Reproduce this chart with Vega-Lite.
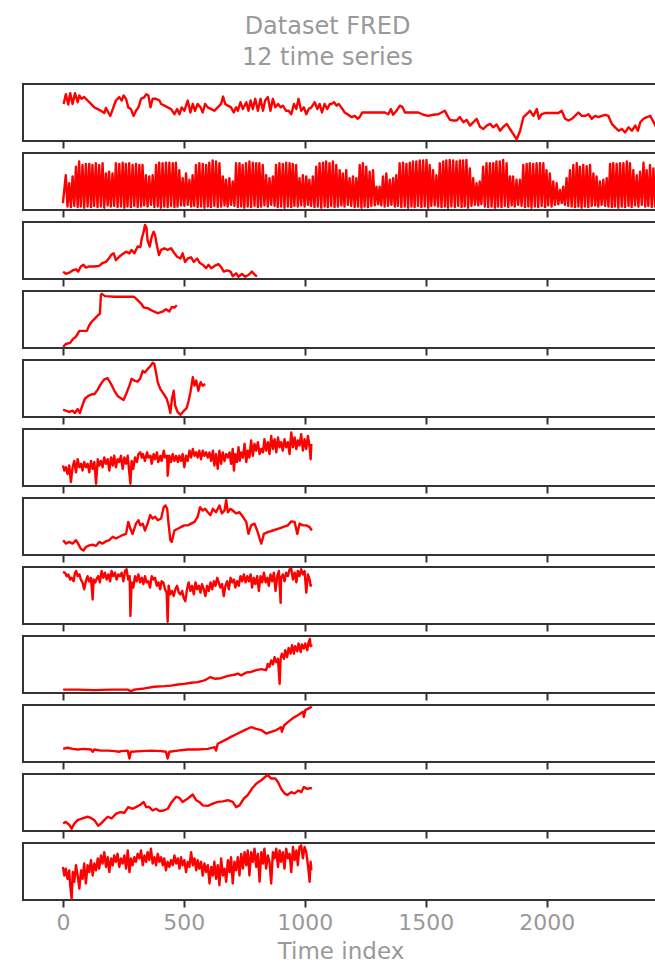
{
"$schema": "https://vega.github.io/schema/vega-lite/v6.json",
"background": "white",
"padding": {"left": 22, "top": 15, "right": 0, "bottom": 0},
"title": {"text": ["Dataset FRED", "12 time series"], "font": "DejaVu Sans", "fontSize": 24, "fontWeight": "normal", "color": "#999999", "lineHeight": 31, "anchor": "middle", "dx": -13, "offset": 13},
"bounds": "flush",
"spacing": 12,
"datasets": {
"s1": [{"t":3,"v":65},{"t":12,"v":82},{"t":22,"v":64},{"t":30,"v":84},{"t":40,"v":65},{"t":50,"v":84},{"t":61,"v":68},{"t":68,"v":80},{"t":77,"v":74},{"t":88,"v":77},{"t":102,"v":71},{"t":116,"v":65},{"t":130,"v":59},{"t":144,"v":56},{"t":157,"v":53},{"t":171,"v":49},{"t":178,"v":58},{"t":188,"v":50},{"t":196,"v":44},{"t":206,"v":56},{"t":219,"v":71},{"t":233,"v":77},{"t":243,"v":71},{"t":251,"v":80},{"t":261,"v":74},{"t":270,"v":59},{"t":281,"v":56},{"t":292,"v":44},{"t":302,"v":53},{"t":312,"v":59},{"t":323,"v":74},{"t":337,"v":77},{"t":344,"v":82},{"t":353,"v":80},{"t":362,"v":59},{"t":371,"v":74},{"t":385,"v":74},{"t":399,"v":71},{"t":406,"v":65},{"t":420,"v":62},{"t":433,"v":59},{"t":447,"v":56},{"t":461,"v":47},{"t":472,"v":56},{"t":482,"v":47},{"t":491,"v":59},{"t":502,"v":53},{"t":516,"v":71},{"t":527,"v":50},{"t":537,"v":65},{"t":546,"v":53},{"t":557,"v":65},{"t":569,"v":59},{"t":578,"v":50},{"t":588,"v":65},{"t":599,"v":59},{"t":613,"v":56},{"t":626,"v":53},{"t":640,"v":59},{"t":654,"v":65},{"t":662,"v":78},{"t":671,"v":65},{"t":682,"v":62},{"t":695,"v":59},{"t":706,"v":50},{"t":716,"v":59},{"t":723,"v":53},{"t":734,"v":68},{"t":744,"v":56},{"t":758,"v":68},{"t":767,"v":53},{"t":776,"v":71},{"t":785,"v":56},{"t":795,"v":74},{"t":806,"v":53},{"t":817,"v":74},{"t":827,"v":53},{"t":836,"v":71},{"t":847,"v":77},{"t":858,"v":53},{"t":868,"v":74},{"t":878,"v":59},{"t":889,"v":65},{"t":900,"v":59},{"t":909,"v":62},{"t":923,"v":53},{"t":933,"v":53},{"t":944,"v":47},{"t":955,"v":65},{"t":965,"v":56},{"t":974,"v":74},{"t":985,"v":53},{"t":996,"v":59},{"t":1006,"v":47},{"t":1016,"v":56},{"t":1027,"v":59},{"t":1041,"v":68},{"t":1052,"v":56},{"t":1061,"v":65},{"t":1071,"v":50},{"t":1082,"v":65},{"t":1093,"v":56},{"t":1103,"v":65},{"t":1110,"v":65},{"t":1121,"v":68},{"t":1131,"v":62},{"t":1140,"v":65},{"t":1151,"v":59},{"t":1165,"v":50},{"t":1179,"v":46},{"t":1193,"v":42},{"t":1207,"v":44},{"t":1218,"v":39},{"t":1227,"v":42},{"t":1237,"v":50},{"t":1248,"v":50},{"t":1276,"v":50},{"t":1303,"v":50},{"t":1331,"v":50},{"t":1345,"v":47},{"t":1356,"v":56},{"t":1365,"v":46},{"t":1379,"v":53},{"t":1393,"v":62},{"t":1403,"v":60},{"t":1414,"v":50},{"t":1441,"v":50},{"t":1469,"v":50},{"t":1490,"v":46},{"t":1510,"v":44},{"t":1531,"v":46},{"t":1552,"v":47},{"t":1565,"v":50},{"t":1579,"v":53},{"t":1590,"v":44},{"t":1600,"v":37},{"t":1614,"v":36},{"t":1628,"v":36},{"t":1641,"v":42},{"t":1655,"v":33},{"t":1669,"v":37},{"t":1683,"v":27},{"t":1697,"v":33},{"t":1710,"v":39},{"t":1724,"v":25},{"t":1738,"v":21},{"t":1752,"v":27},{"t":1766,"v":30},{"t":1779,"v":24},{"t":1793,"v":29},{"t":1807,"v":18},{"t":1821,"v":25},{"t":1835,"v":30},{"t":1848,"v":21},{"t":1862,"v":12},{"t":1876,"v":3},{"t":1890,"v":18},{"t":1904,"v":42},{"t":1917,"v":47},{"t":1931,"v":53},{"t":1945,"v":44},{"t":1959,"v":56},{"t":1968,"v":39},{"t":1979,"v":47},{"t":1993,"v":49},{"t":2021,"v":49},{"t":2048,"v":49},{"t":2062,"v":53},{"t":2076,"v":39},{"t":2090,"v":36},{"t":2104,"v":39},{"t":2117,"v":44},{"t":2131,"v":50},{"t":2145,"v":44},{"t":2159,"v":44},{"t":2173,"v":47},{"t":2186,"v":39},{"t":2200,"v":44},{"t":2214,"v":42},{"t":2228,"v":44},{"t":2242,"v":46},{"t":2255,"v":44},{"t":2269,"v":30},{"t":2283,"v":24},{"t":2297,"v":18},{"t":2311,"v":21},{"t":2324,"v":15},{"t":2338,"v":24},{"t":2352,"v":18},{"t":2366,"v":27},{"t":2377,"v":18},{"t":2387,"v":33},{"t":2400,"v":39},{"t":2414,"v":42},{"t":2428,"v":44},{"t":2438,"v":36},{"t":2449,"v":27},{"t":2469,"v":30}],
"s2": [{"t":0,"v":12},{"t":12,"v":61},{"t":19,"v":6},{"t":26,"v":47},{"t":33,"v":5},{"t":40,"v":59},{"t":47,"v":7},{"t":54,"v":76},{"t":61,"v":5},{"t":67,"v":85},{"t":74,"v":6},{"t":81,"v":79},{"t":88,"v":4},{"t":95,"v":81},{"t":102,"v":6},{"t":109,"v":81},{"t":116,"v":5},{"t":122,"v":79},{"t":129,"v":7},{"t":136,"v":82},{"t":143,"v":5},{"t":150,"v":79},{"t":157,"v":6},{"t":164,"v":82},{"t":171,"v":4},{"t":178,"v":64},{"t":185,"v":8},{"t":191,"v":67},{"t":198,"v":6},{"t":205,"v":64},{"t":212,"v":7},{"t":219,"v":82},{"t":226,"v":5},{"t":233,"v":81},{"t":240,"v":6},{"t":247,"v":83},{"t":254,"v":4},{"t":260,"v":81},{"t":267,"v":6},{"t":274,"v":82},{"t":281,"v":5},{"t":288,"v":79},{"t":295,"v":7},{"t":302,"v":81},{"t":309,"v":5},{"t":316,"v":79},{"t":323,"v":6},{"t":329,"v":79},{"t":336,"v":8},{"t":343,"v":61},{"t":350,"v":6},{"t":357,"v":59},{"t":364,"v":9},{"t":371,"v":61},{"t":378,"v":5},{"t":385,"v":79},{"t":392,"v":6},{"t":398,"v":83},{"t":405,"v":4},{"t":412,"v":82},{"t":419,"v":6},{"t":426,"v":83},{"t":433,"v":5},{"t":440,"v":83},{"t":447,"v":7},{"t":454,"v":82},{"t":461,"v":5},{"t":467,"v":83},{"t":474,"v":6},{"t":481,"v":70},{"t":488,"v":8},{"t":495,"v":56},{"t":502,"v":7},{"t":509,"v":64},{"t":516,"v":9},{"t":523,"v":53},{"t":530,"v":6},{"t":536,"v":61},{"t":543,"v":7},{"t":550,"v":79},{"t":557,"v":5},{"t":564,"v":82},{"t":571,"v":6},{"t":578,"v":81},{"t":585,"v":4},{"t":592,"v":79},{"t":599,"v":6},{"t":605,"v":83},{"t":612,"v":5},{"t":619,"v":87},{"t":626,"v":7},{"t":633,"v":85},{"t":640,"v":5},{"t":647,"v":82},{"t":654,"v":6},{"t":661,"v":59},{"t":668,"v":8},{"t":674,"v":53},{"t":681,"v":6},{"t":688,"v":56},{"t":695,"v":9},{"t":702,"v":50},{"t":709,"v":7},{"t":716,"v":82},{"t":723,"v":5},{"t":730,"v":82},{"t":737,"v":6},{"t":743,"v":79},{"t":750,"v":4},{"t":757,"v":82},{"t":764,"v":6},{"t":771,"v":85},{"t":778,"v":5},{"t":785,"v":83},{"t":792,"v":7},{"t":799,"v":82},{"t":806,"v":5},{"t":812,"v":82},{"t":819,"v":6},{"t":826,"v":79},{"t":833,"v":8},{"t":840,"v":61},{"t":847,"v":6},{"t":854,"v":56},{"t":861,"v":9},{"t":868,"v":59},{"t":875,"v":7},{"t":881,"v":79},{"t":888,"v":5},{"t":895,"v":82},{"t":902,"v":6},{"t":909,"v":81},{"t":916,"v":4},{"t":923,"v":83},{"t":930,"v":6},{"t":937,"v":82},{"t":944,"v":5},{"t":950,"v":81},{"t":957,"v":7},{"t":964,"v":79},{"t":971,"v":6},{"t":978,"v":56},{"t":985,"v":8},{"t":992,"v":61},{"t":999,"v":6},{"t":1006,"v":59},{"t":1013,"v":9},{"t":1019,"v":53},{"t":1026,"v":7},{"t":1033,"v":59},{"t":1040,"v":5},{"t":1047,"v":76},{"t":1054,"v":6},{"t":1061,"v":82},{"t":1068,"v":4},{"t":1075,"v":83},{"t":1082,"v":6},{"t":1088,"v":85},{"t":1095,"v":5},{"t":1102,"v":82},{"t":1109,"v":7},{"t":1116,"v":85},{"t":1123,"v":5},{"t":1130,"v":79},{"t":1137,"v":6},{"t":1144,"v":70},{"t":1151,"v":8},{"t":1157,"v":64},{"t":1164,"v":6},{"t":1171,"v":70},{"t":1178,"v":9},{"t":1185,"v":56},{"t":1192,"v":7},{"t":1199,"v":59},{"t":1206,"v":5},{"t":1213,"v":56},{"t":1220,"v":6},{"t":1227,"v":79},{"t":1234,"v":4},{"t":1240,"v":82},{"t":1247,"v":6},{"t":1254,"v":76},{"t":1261,"v":5},{"t":1268,"v":67},{"t":1275,"v":7},{"t":1282,"v":70},{"t":1289,"v":8},{"t":1296,"v":41},{"t":1303,"v":10},{"t":1309,"v":41},{"t":1316,"v":8},{"t":1323,"v":59},{"t":1330,"v":6},{"t":1337,"v":64},{"t":1344,"v":7},{"t":1351,"v":53},{"t":1358,"v":9},{"t":1365,"v":56},{"t":1372,"v":6},{"t":1378,"v":61},{"t":1385,"v":7},{"t":1392,"v":82},{"t":1399,"v":5},{"t":1406,"v":83},{"t":1413,"v":6},{"t":1420,"v":81},{"t":1427,"v":4},{"t":1434,"v":83},{"t":1441,"v":6},{"t":1447,"v":85},{"t":1454,"v":5},{"t":1461,"v":85},{"t":1468,"v":7},{"t":1475,"v":87},{"t":1482,"v":5},{"t":1489,"v":87},{"t":1496,"v":6},{"t":1503,"v":88},{"t":1510,"v":4},{"t":1516,"v":79},{"t":1523,"v":7},{"t":1530,"v":70},{"t":1537,"v":8},{"t":1544,"v":61},{"t":1551,"v":6},{"t":1558,"v":82},{"t":1565,"v":5},{"t":1572,"v":85},{"t":1579,"v":6},{"t":1585,"v":87},{"t":1592,"v":4},{"t":1599,"v":88},{"t":1606,"v":6},{"t":1613,"v":87},{"t":1620,"v":5},{"t":1627,"v":85},{"t":1634,"v":7},{"t":1641,"v":87},{"t":1648,"v":5},{"t":1654,"v":87},{"t":1661,"v":6},{"t":1668,"v":88},{"t":1675,"v":4},{"t":1682,"v":73},{"t":1689,"v":7},{"t":1696,"v":56},{"t":1703,"v":9},{"t":1710,"v":47},{"t":1717,"v":8},{"t":1723,"v":50},{"t":1730,"v":10},{"t":1737,"v":76},{"t":1744,"v":6},{"t":1751,"v":82},{"t":1758,"v":5},{"t":1765,"v":82},{"t":1772,"v":6},{"t":1779,"v":82},{"t":1786,"v":4},{"t":1792,"v":85},{"t":1799,"v":6},{"t":1806,"v":85},{"t":1813,"v":5},{"t":1820,"v":88},{"t":1827,"v":7},{"t":1834,"v":82},{"t":1841,"v":5},{"t":1848,"v":59},{"t":1855,"v":8},{"t":1861,"v":59},{"t":1868,"v":6},{"t":1875,"v":53},{"t":1882,"v":9},{"t":1889,"v":53},{"t":1896,"v":7},{"t":1903,"v":79},{"t":1910,"v":5},{"t":1917,"v":81},{"t":1924,"v":6},{"t":1930,"v":82},{"t":1937,"v":4},{"t":1944,"v":81},{"t":1951,"v":6},{"t":1958,"v":82},{"t":1965,"v":5},{"t":1972,"v":82},{"t":1979,"v":7},{"t":1986,"v":82},{"t":1993,"v":5},{"t":1999,"v":70},{"t":2006,"v":8},{"t":2013,"v":64},{"t":2020,"v":6},{"t":2027,"v":50},{"t":2034,"v":9},{"t":2041,"v":47},{"t":2048,"v":10},{"t":2055,"v":35},{"t":2062,"v":12},{"t":2068,"v":41},{"t":2075,"v":9},{"t":2082,"v":56},{"t":2089,"v":7},{"t":2096,"v":70},{"t":2103,"v":6},{"t":2110,"v":79},{"t":2117,"v":5},{"t":2124,"v":82},{"t":2131,"v":6},{"t":2137,"v":76},{"t":2144,"v":4},{"t":2151,"v":79},{"t":2158,"v":6},{"t":2165,"v":77},{"t":2172,"v":5},{"t":2179,"v":79},{"t":2186,"v":7},{"t":2193,"v":64},{"t":2200,"v":8},{"t":2206,"v":59},{"t":2213,"v":6},{"t":2220,"v":50},{"t":2227,"v":9},{"t":2234,"v":53},{"t":2241,"v":7},{"t":2248,"v":56},{"t":2255,"v":6},{"t":2262,"v":81},{"t":2269,"v":5},{"t":2275,"v":82},{"t":2282,"v":6},{"t":2289,"v":81},{"t":2296,"v":4},{"t":2303,"v":82},{"t":2310,"v":6},{"t":2317,"v":82},{"t":2324,"v":5},{"t":2331,"v":85},{"t":2338,"v":7},{"t":2344,"v":82},{"t":2351,"v":5},{"t":2358,"v":70},{"t":2365,"v":8},{"t":2372,"v":61},{"t":2379,"v":6},{"t":2386,"v":67},{"t":2393,"v":9},{"t":2400,"v":83},{"t":2407,"v":6},{"t":2413,"v":70},{"t":2420,"v":7},{"t":2427,"v":79},{"t":2434,"v":5},{"t":2441,"v":73},{"t":2448,"v":6},{"t":2455,"v":76},{"t":2462,"v":5}],
"s3": [{"t":1,"v":13},{"t":12,"v":9},{"t":26,"v":11},{"t":40,"v":15},{"t":54,"v":17},{"t":63,"v":13},{"t":74,"v":22},{"t":85,"v":25},{"t":95,"v":20},{"t":109,"v":22},{"t":130,"v":22},{"t":150,"v":23},{"t":164,"v":28},{"t":178,"v":30},{"t":188,"v":35},{"t":199,"v":42},{"t":210,"v":45},{"t":219,"v":33},{"t":233,"v":39},{"t":247,"v":44},{"t":261,"v":48},{"t":275,"v":45},{"t":284,"v":51},{"t":295,"v":45},{"t":309,"v":57},{"t":320,"v":56},{"t":326,"v":71},{"t":334,"v":83},{"t":339,"v":95},{"t":345,"v":91},{"t":350,"v":68},{"t":359,"v":57},{"t":367,"v":74},{"t":375,"v":83},{"t":381,"v":77},{"t":389,"v":58},{"t":397,"v":42},{"t":406,"v":51},{"t":420,"v":54},{"t":433,"v":51},{"t":447,"v":54},{"t":461,"v":45},{"t":472,"v":39},{"t":486,"v":36},{"t":495,"v":45},{"t":505,"v":30},{"t":516,"v":36},{"t":530,"v":38},{"t":541,"v":30},{"t":555,"v":36},{"t":566,"v":28},{"t":578,"v":25},{"t":592,"v":19},{"t":602,"v":25},{"t":613,"v":19},{"t":627,"v":23},{"t":643,"v":26},{"t":654,"v":21},{"t":665,"v":13},{"t":679,"v":15},{"t":693,"v":13},{"t":702,"v":5},{"t":716,"v":10},{"t":726,"v":4},{"t":740,"v":9},{"t":754,"v":4},{"t":767,"v":7},{"t":781,"v":13},{"t":792,"v":8},{"t":802,"v":4}],
"s4": [{"t":1,"v":2},{"t":12,"v":7},{"t":30,"v":9},{"t":40,"v":15},{"t":54,"v":20},{"t":68,"v":30},{"t":85,"v":30},{"t":99,"v":30},{"t":109,"v":40},{"t":119,"v":46},{"t":133,"v":52},{"t":146,"v":58},{"t":153,"v":60},{"t":157,"v":93},{"t":161,"v":95},{"t":174,"v":91},{"t":213,"v":90},{"t":268,"v":90},{"t":293,"v":90},{"t":309,"v":84},{"t":323,"v":78},{"t":334,"v":71},{"t":350,"v":70},{"t":371,"v":65},{"t":392,"v":61},{"t":413,"v":64},{"t":426,"v":68},{"t":440,"v":64},{"t":450,"v":72},{"t":461,"v":71},{"t":471,"v":75}],
"s5": [{"t":1,"v":13},{"t":12,"v":11},{"t":26,"v":9},{"t":40,"v":11},{"t":50,"v":7},{"t":61,"v":14},{"t":70,"v":7},{"t":81,"v":21},{"t":91,"v":32},{"t":105,"v":37},{"t":119,"v":40},{"t":130,"v":40},{"t":144,"v":48},{"t":157,"v":58},{"t":171,"v":66},{"t":185,"v":68},{"t":199,"v":58},{"t":213,"v":46},{"t":226,"v":37},{"t":240,"v":33},{"t":251,"v":30},{"t":261,"v":40},{"t":275,"v":55},{"t":284,"v":67},{"t":295,"v":64},{"t":309,"v":62},{"t":320,"v":68},{"t":330,"v":81},{"t":339,"v":78},{"t":350,"v":84},{"t":361,"v":89},{"t":371,"v":95},{"t":378,"v":93},{"t":385,"v":78},{"t":392,"v":61},{"t":403,"v":49},{"t":417,"v":40},{"t":429,"v":32},{"t":437,"v":21},{"t":444,"v":7},{"t":451,"v":32},{"t":458,"v":46},{"t":464,"v":20},{"t":475,"v":8},{"t":486,"v":4},{"t":500,"v":11},{"t":511,"v":15},{"t":520,"v":29},{"t":527,"v":43},{"t":537,"v":70},{"t":544,"v":55},{"t":551,"v":64},{"t":560,"v":46},{"t":569,"v":61},{"t":578,"v":55},{"t":588,"v":58}],
"s6": [{"t":0,"v":36},{"t":6,"v":27},{"t":12,"v":33},{"t":19,"v":21},{"t":26,"v":36},{"t":33,"v":7},{"t":40,"v":33},{"t":47,"v":44},{"t":54,"v":24},{"t":61,"v":47},{"t":68,"v":33},{"t":75,"v":39},{"t":81,"v":27},{"t":88,"v":42},{"t":95,"v":33},{"t":102,"v":39},{"t":109,"v":24},{"t":116,"v":44},{"t":123,"v":30},{"t":130,"v":42},{"t":137,"v":4},{"t":144,"v":47},{"t":150,"v":36},{"t":157,"v":44},{"t":164,"v":33},{"t":171,"v":50},{"t":178,"v":39},{"t":185,"v":47},{"t":192,"v":27},{"t":199,"v":50},{"t":206,"v":36},{"t":212,"v":53},{"t":219,"v":33},{"t":226,"v":47},{"t":233,"v":42},{"t":240,"v":53},{"t":247,"v":30},{"t":254,"v":50},{"t":261,"v":39},{"t":268,"v":53},{"t":275,"v":21},{"t":279,"v":4},{"t":284,"v":44},{"t":291,"v":30},{"t":298,"v":50},{"t":306,"v":42},{"t":312,"v":56},{"t":320,"v":59},{"t":326,"v":50},{"t":331,"v":56},{"t":339,"v":44},{"t":348,"v":59},{"t":353,"v":50},{"t":362,"v":53},{"t":367,"v":39},{"t":375,"v":56},{"t":381,"v":47},{"t":389,"v":59},{"t":394,"v":42},{"t":403,"v":53},{"t":408,"v":44},{"t":417,"v":62},{"t":422,"v":50},{"t":431,"v":53},{"t":433,"v":18},{"t":440,"v":53},{"t":447,"v":42},{"t":454,"v":56},{"t":461,"v":44},{"t":468,"v":53},{"t":475,"v":42},{"t":481,"v":53},{"t":488,"v":44},{"t":495,"v":56},{"t":502,"v":33},{"t":509,"v":53},{"t":516,"v":44},{"t":523,"v":62},{"t":530,"v":50},{"t":537,"v":65},{"t":544,"v":53},{"t":551,"v":59},{"t":557,"v":50},{"t":564,"v":62},{"t":571,"v":47},{"t":578,"v":62},{"t":585,"v":53},{"t":592,"v":59},{"t":599,"v":50},{"t":606,"v":59},{"t":613,"v":44},{"t":620,"v":62},{"t":626,"v":36},{"t":633,"v":56},{"t":640,"v":30},{"t":647,"v":62},{"t":654,"v":39},{"t":661,"v":59},{"t":668,"v":44},{"t":675,"v":56},{"t":682,"v":50},{"t":689,"v":59},{"t":695,"v":39},{"t":702,"v":65},{"t":707,"v":27},{"t":712,"v":56},{"t":719,"v":42},{"t":726,"v":68},{"t":731,"v":44},{"t":737,"v":59},{"t":744,"v":50},{"t":751,"v":74},{"t":758,"v":42},{"t":764,"v":62},{"t":771,"v":50},{"t":778,"v":80},{"t":785,"v":53},{"t":792,"v":74},{"t":799,"v":62},{"t":806,"v":77},{"t":813,"v":56},{"t":820,"v":65},{"t":827,"v":59},{"t":833,"v":82},{"t":840,"v":62},{"t":847,"v":77},{"t":854,"v":56},{"t":861,"v":88},{"t":868,"v":65},{"t":875,"v":82},{"t":882,"v":59},{"t":889,"v":85},{"t":896,"v":68},{"t":902,"v":77},{"t":909,"v":62},{"t":916,"v":82},{"t":923,"v":68},{"t":930,"v":77},{"t":937,"v":56},{"t":944,"v":94},{"t":951,"v":68},{"t":958,"v":85},{"t":965,"v":65},{"t":971,"v":80},{"t":978,"v":71},{"t":985,"v":91},{"t":992,"v":62},{"t":999,"v":82},{"t":1006,"v":65},{"t":1013,"v":88},{"t":1020,"v":68},{"t":1024,"v":47},{"t":1027,"v":74}],
"s7": [{"t":1,"v":26},{"t":12,"v":20},{"t":26,"v":23},{"t":40,"v":20},{"t":54,"v":26},{"t":63,"v":20},{"t":74,"v":11},{"t":85,"v":8},{"t":95,"v":14},{"t":109,"v":17},{"t":123,"v":18},{"t":137,"v":16},{"t":150,"v":23},{"t":164,"v":20},{"t":178,"v":24},{"t":192,"v":26},{"t":206,"v":32},{"t":219,"v":29},{"t":233,"v":32},{"t":247,"v":35},{"t":261,"v":37},{"t":270,"v":58},{"t":279,"v":46},{"t":288,"v":37},{"t":302,"v":55},{"t":312,"v":61},{"t":320,"v":52},{"t":330,"v":55},{"t":339,"v":43},{"t":350,"v":55},{"t":361,"v":70},{"t":371,"v":64},{"t":381,"v":67},{"t":392,"v":61},{"t":406,"v":64},{"t":417,"v":84},{"t":424,"v":87},{"t":431,"v":81},{"t":436,"v":58},{"t":444,"v":26},{"t":450,"v":23},{"t":461,"v":43},{"t":475,"v":46},{"t":488,"v":49},{"t":502,"v":52},{"t":516,"v":52},{"t":530,"v":55},{"t":544,"v":58},{"t":557,"v":67},{"t":567,"v":84},{"t":578,"v":78},{"t":588,"v":81},{"t":599,"v":75},{"t":610,"v":70},{"t":620,"v":81},{"t":633,"v":75},{"t":647,"v":87},{"t":657,"v":73},{"t":668,"v":78},{"t":675,"v":96},{"t":682,"v":75},{"t":693,"v":81},{"t":702,"v":78},{"t":716,"v":73},{"t":730,"v":75},{"t":744,"v":67},{"t":758,"v":58},{"t":767,"v":37},{"t":778,"v":52},{"t":792,"v":55},{"t":803,"v":43},{"t":813,"v":29},{"t":820,"v":20},{"t":831,"v":37},{"t":847,"v":40},{"t":868,"v":43},{"t":889,"v":46},{"t":909,"v":49},{"t":930,"v":52},{"t":944,"v":59},{"t":958,"v":58},{"t":969,"v":37},{"t":978,"v":55},{"t":992,"v":52},{"t":1006,"v":52},{"t":1020,"v":49},{"t":1029,"v":43}],
"s8": [{"t":0,"v":91},{"t":8,"v":90},{"t":16,"v":84},{"t":22,"v":87},{"t":30,"v":78},{"t":36,"v":81},{"t":44,"v":75},{"t":50,"v":90},{"t":55,"v":93},{"t":61,"v":84},{"t":68,"v":87},{"t":74,"v":78},{"t":81,"v":73},{"t":88,"v":61},{"t":95,"v":75},{"t":102,"v":84},{"t":109,"v":75},{"t":116,"v":81},{"t":123,"v":43},{"t":127,"v":78},{"t":134,"v":73},{"t":141,"v":81},{"t":146,"v":84},{"t":153,"v":73},{"t":160,"v":93},{"t":167,"v":81},{"t":174,"v":90},{"t":181,"v":78},{"t":188,"v":87},{"t":195,"v":75},{"t":201,"v":93},{"t":208,"v":84},{"t":215,"v":90},{"t":222,"v":78},{"t":229,"v":87},{"t":236,"v":84},{"t":243,"v":90},{"t":250,"v":75},{"t":257,"v":93},{"t":263,"v":96},{"t":270,"v":78},{"t":276,"v":84},{"t":279,"v":14},{"t":284,"v":73},{"t":291,"v":64},{"t":298,"v":84},{"t":305,"v":75},{"t":312,"v":87},{"t":319,"v":73},{"t":326,"v":81},{"t":333,"v":70},{"t":339,"v":84},{"t":346,"v":73},{"t":353,"v":75},{"t":360,"v":64},{"t":367,"v":84},{"t":374,"v":78},{"t":381,"v":81},{"t":388,"v":67},{"t":395,"v":73},{"t":402,"v":61},{"t":408,"v":75},{"t":415,"v":73},{"t":422,"v":61},{"t":429,"v":55},{"t":433,"v":4},{"t":437,"v":67},{"t":444,"v":52},{"t":451,"v":58},{"t":458,"v":49},{"t":465,"v":61},{"t":472,"v":67},{"t":479,"v":55},{"t":486,"v":52},{"t":493,"v":58},{"t":499,"v":46},{"t":506,"v":40},{"t":513,"v":61},{"t":520,"v":73},{"t":527,"v":58},{"t":534,"v":67},{"t":541,"v":52},{"t":548,"v":73},{"t":555,"v":61},{"t":562,"v":67},{"t":569,"v":55},{"t":575,"v":70},{"t":582,"v":61},{"t":589,"v":49},{"t":596,"v":67},{"t":603,"v":58},{"t":610,"v":73},{"t":617,"v":61},{"t":624,"v":75},{"t":631,"v":67},{"t":638,"v":81},{"t":644,"v":73},{"t":651,"v":64},{"t":658,"v":70},{"t":665,"v":49},{"t":672,"v":67},{"t":679,"v":75},{"t":686,"v":61},{"t":693,"v":81},{"t":700,"v":73},{"t":707,"v":78},{"t":713,"v":64},{"t":720,"v":75},{"t":727,"v":67},{"t":734,"v":84},{"t":741,"v":75},{"t":748,"v":87},{"t":755,"v":73},{"t":762,"v":84},{"t":769,"v":75},{"t":776,"v":87},{"t":782,"v":64},{"t":789,"v":81},{"t":796,"v":70},{"t":803,"v":84},{"t":810,"v":58},{"t":817,"v":84},{"t":824,"v":73},{"t":831,"v":90},{"t":838,"v":73},{"t":845,"v":81},{"t":851,"v":67},{"t":858,"v":87},{"t":865,"v":75},{"t":872,"v":90},{"t":879,"v":58},{"t":886,"v":84},{"t":893,"v":93},{"t":900,"v":37},{"t":902,"v":81},{"t":909,"v":87},{"t":916,"v":75},{"t":923,"v":90},{"t":930,"v":84},{"t":937,"v":96},{"t":944,"v":97},{"t":951,"v":78},{"t":958,"v":90},{"t":965,"v":73},{"t":971,"v":93},{"t":978,"v":84},{"t":985,"v":96},{"t":992,"v":87},{"t":999,"v":93},{"t":1006,"v":55},{"t":1013,"v":87},{"t":1020,"v":78},{"t":1024,"v":67},{"t":1027,"v":70}],
"s9": [{"t":1,"v":6},{"t":61,"v":6},{"t":130,"v":5},{"t":199,"v":6},{"t":268,"v":6},{"t":281,"v":3},{"t":295,"v":6},{"t":337,"v":8},{"t":378,"v":11},{"t":420,"v":12},{"t":447,"v":13},{"t":475,"v":15},{"t":502,"v":16},{"t":530,"v":18},{"t":557,"v":19},{"t":585,"v":22},{"t":610,"v":28},{"t":627,"v":25},{"t":654,"v":26},{"t":682,"v":30},{"t":709,"v":32},{"t":723,"v":34},{"t":737,"v":31},{"t":758,"v":36},{"t":778,"v":37},{"t":799,"v":40},{"t":820,"v":42},{"t":840,"v":40},{"t":847,"v":51},{"t":854,"v":46},{"t":861,"v":57},{"t":868,"v":50},{"t":875,"v":63},{"t":882,"v":54},{"t":889,"v":60},{"t":896,"v":16},{"t":900,"v":60},{"t":905,"v":69},{"t":914,"v":60},{"t":919,"v":75},{"t":927,"v":63},{"t":933,"v":79},{"t":941,"v":69},{"t":947,"v":84},{"t":955,"v":69},{"t":960,"v":82},{"t":969,"v":73},{"t":974,"v":87},{"t":983,"v":72},{"t":988,"v":85},{"t":996,"v":78},{"t":1002,"v":87},{"t":1010,"v":75},{"t":1016,"v":90},{"t":1021,"v":95},{"t":1024,"v":82},{"t":1029,"v":85}],
"s10": [{"t":1,"v":23},{"t":19,"v":25},{"t":40,"v":23},{"t":61,"v":22},{"t":88,"v":23},{"t":116,"v":22},{"t":123,"v":18},{"t":130,"v":22},{"t":157,"v":20},{"t":185,"v":20},{"t":213,"v":19},{"t":233,"v":18},{"t":240,"v":19},{"t":268,"v":20},{"t":275,"v":6},{"t":281,"v":18},{"t":323,"v":19},{"t":364,"v":20},{"t":406,"v":19},{"t":426,"v":18},{"t":433,"v":6},{"t":440,"v":18},{"t":475,"v":20},{"t":516,"v":22},{"t":557,"v":22},{"t":599,"v":23},{"t":627,"v":26},{"t":633,"v":20},{"t":640,"v":32},{"t":668,"v":38},{"t":695,"v":44},{"t":723,"v":50},{"t":751,"v":56},{"t":778,"v":61},{"t":799,"v":58},{"t":820,"v":56},{"t":840,"v":50},{"t":861,"v":53},{"t":882,"v":56},{"t":902,"v":61},{"t":905,"v":53},{"t":914,"v":64},{"t":930,"v":70},{"t":951,"v":77},{"t":971,"v":82},{"t":992,"v":88},{"t":996,"v":79},{"t":1002,"v":91},{"t":1020,"v":95},{"t":1029,"v":97}],
"s11": [{"t":1,"v":13},{"t":12,"v":16},{"t":26,"v":11},{"t":36,"v":4},{"t":47,"v":13},{"t":61,"v":19},{"t":81,"v":22},{"t":102,"v":25},{"t":116,"v":23},{"t":130,"v":19},{"t":146,"v":9},{"t":157,"v":13},{"t":171,"v":19},{"t":185,"v":25},{"t":201,"v":22},{"t":219,"v":30},{"t":237,"v":33},{"t":254,"v":32},{"t":270,"v":42},{"t":288,"v":39},{"t":302,"v":42},{"t":320,"v":46},{"t":334,"v":51},{"t":344,"v":42},{"t":357,"v":42},{"t":371,"v":36},{"t":385,"v":39},{"t":399,"v":35},{"t":417,"v":36},{"t":433,"v":39},{"t":450,"v":51},{"t":468,"v":60},{"t":482,"v":58},{"t":495,"v":51},{"t":516,"v":57},{"t":537,"v":64},{"t":551,"v":54},{"t":564,"v":51},{"t":578,"v":45},{"t":599,"v":44},{"t":620,"v":48},{"t":640,"v":51},{"t":661,"v":52},{"t":682,"v":54},{"t":702,"v":51},{"t":716,"v":42},{"t":730,"v":45},{"t":748,"v":57},{"t":764,"v":63},{"t":781,"v":74},{"t":799,"v":83},{"t":820,"v":89},{"t":836,"v":95},{"t":847,"v":98},{"t":861,"v":92},{"t":878,"v":92},{"t":889,"v":86},{"t":902,"v":74},{"t":916,"v":66},{"t":927,"v":63},{"t":944,"v":68},{"t":958,"v":66},{"t":974,"v":71},{"t":985,"v":68},{"t":996,"v":77},{"t":1010,"v":74},{"t":1020,"v":75},{"t":1029,"v":75}],
"s12": [{"t":0,"v":58},{"t":6,"v":43},{"t":12,"v":55},{"t":19,"v":37},{"t":26,"v":52},{"t":30,"v":26},{"t":36,"v":2},{"t":41,"v":49},{"t":47,"v":32},{"t":54,"v":61},{"t":61,"v":43},{"t":68,"v":20},{"t":75,"v":52},{"t":81,"v":37},{"t":88,"v":64},{"t":95,"v":29},{"t":102,"v":61},{"t":109,"v":49},{"t":116,"v":70},{"t":123,"v":43},{"t":130,"v":64},{"t":137,"v":52},{"t":144,"v":73},{"t":150,"v":55},{"t":157,"v":78},{"t":164,"v":64},{"t":171,"v":84},{"t":178,"v":58},{"t":185,"v":75},{"t":192,"v":49},{"t":199,"v":73},{"t":206,"v":61},{"t":212,"v":78},{"t":219,"v":67},{"t":226,"v":81},{"t":233,"v":58},{"t":240,"v":73},{"t":247,"v":64},{"t":254,"v":78},{"t":261,"v":55},{"t":268,"v":87},{"t":275,"v":49},{"t":281,"v":73},{"t":288,"v":61},{"t":295,"v":75},{"t":302,"v":67},{"t":309,"v":81},{"t":316,"v":73},{"t":323,"v":87},{"t":330,"v":61},{"t":337,"v":78},{"t":344,"v":67},{"t":350,"v":84},{"t":357,"v":70},{"t":364,"v":90},{"t":371,"v":64},{"t":378,"v":75},{"t":385,"v":61},{"t":392,"v":81},{"t":399,"v":67},{"t":406,"v":75},{"t":413,"v":61},{"t":419,"v":73},{"t":426,"v":52},{"t":433,"v":67},{"t":440,"v":58},{"t":447,"v":70},{"t":454,"v":61},{"t":461,"v":78},{"t":468,"v":64},{"t":475,"v":73},{"t":482,"v":55},{"t":488,"v":75},{"t":495,"v":61},{"t":502,"v":70},{"t":509,"v":49},{"t":516,"v":67},{"t":523,"v":58},{"t":530,"v":84},{"t":537,"v":61},{"t":544,"v":73},{"t":551,"v":52},{"t":557,"v":70},{"t":564,"v":55},{"t":571,"v":67},{"t":578,"v":43},{"t":585,"v":64},{"t":592,"v":49},{"t":599,"v":61},{"t":606,"v":29},{"t":613,"v":58},{"t":620,"v":43},{"t":626,"v":67},{"t":633,"v":37},{"t":640,"v":61},{"t":647,"v":26},{"t":654,"v":73},{"t":661,"v":43},{"t":668,"v":55},{"t":675,"v":32},{"t":682,"v":70},{"t":689,"v":49},{"t":695,"v":75},{"t":702,"v":29},{"t":709,"v":67},{"t":716,"v":52},{"t":723,"v":75},{"t":730,"v":43},{"t":737,"v":81},{"t":744,"v":55},{"t":751,"v":84},{"t":758,"v":61},{"t":764,"v":87},{"t":771,"v":43},{"t":778,"v":84},{"t":785,"v":67},{"t":792,"v":90},{"t":799,"v":58},{"t":806,"v":81},{"t":813,"v":32},{"t":820,"v":84},{"t":827,"v":64},{"t":833,"v":90},{"t":840,"v":55},{"t":847,"v":78},{"t":854,"v":67},{"t":861,"v":29},{"t":868,"v":84},{"t":875,"v":73},{"t":882,"v":90},{"t":889,"v":58},{"t":896,"v":87},{"t":902,"v":67},{"t":909,"v":84},{"t":916,"v":55},{"t":923,"v":90},{"t":930,"v":73},{"t":937,"v":81},{"t":944,"v":49},{"t":951,"v":93},{"t":958,"v":70},{"t":965,"v":87},{"t":971,"v":61},{"t":978,"v":93},{"t":985,"v":96},{"t":992,"v":73},{"t":999,"v":93},{"t":1006,"v":84},{"t":1013,"v":61},{"t":1020,"v":32},{"t":1024,"v":67},{"t":1027,"v":52}]
},
"vconcat": [
{"data": {"name": "s1"}, "width": 635, "height": 57, "mark": {"type": "line", "color": "#ff0000", "strokeWidth": 2.4, "strokeJoin": "round", "clip": true}, "encoding": {"x": {"field": "t", "type": "quantitative", "scale": {"domain": [-165, 2460], "nice": false, "zero": false}, "axis": {"values": [0, 500, 1000, 1500, 2000], "labels": false, "title": null}}, "y": {"field": "v", "type": "quantitative", "scale": {"domain": [0, 100], "nice": false}, "axis": null}}},
{"data": {"name": "s2"}, "width": 635, "height": 57, "mark": {"type": "line", "color": "#ff0000", "strokeWidth": 2.4, "strokeJoin": "round", "clip": true}, "encoding": {"x": {"field": "t", "type": "quantitative", "scale": {"domain": [-165, 2460], "nice": false, "zero": false}, "axis": {"values": [0, 500, 1000, 1500, 2000], "labels": false, "title": null}}, "y": {"field": "v", "type": "quantitative", "scale": {"domain": [0, 100], "nice": false}, "axis": null}}},
{"data": {"name": "s3"}, "width": 635, "height": 57, "mark": {"type": "line", "color": "#ff0000", "strokeWidth": 2.4, "strokeJoin": "round", "clip": true}, "encoding": {"x": {"field": "t", "type": "quantitative", "scale": {"domain": [-165, 2460], "nice": false, "zero": false}, "axis": {"values": [0, 500, 1000, 1500, 2000], "labels": false, "title": null}}, "y": {"field": "v", "type": "quantitative", "scale": {"domain": [0, 100], "nice": false}, "axis": null}}},
{"data": {"name": "s4"}, "width": 635, "height": 57, "mark": {"type": "line", "color": "#ff0000", "strokeWidth": 2.4, "strokeJoin": "round", "clip": true}, "encoding": {"x": {"field": "t", "type": "quantitative", "scale": {"domain": [-165, 2460], "nice": false, "zero": false}, "axis": {"values": [0, 500, 1000, 1500, 2000], "labels": false, "title": null}}, "y": {"field": "v", "type": "quantitative", "scale": {"domain": [0, 100], "nice": false}, "axis": null}}},
{"data": {"name": "s5"}, "width": 635, "height": 57, "mark": {"type": "line", "color": "#ff0000", "strokeWidth": 2.4, "strokeJoin": "round", "clip": true}, "encoding": {"x": {"field": "t", "type": "quantitative", "scale": {"domain": [-165, 2460], "nice": false, "zero": false}, "axis": {"values": [0, 500, 1000, 1500, 2000], "labels": false, "title": null}}, "y": {"field": "v", "type": "quantitative", "scale": {"domain": [0, 100], "nice": false}, "axis": null}}},
{"data": {"name": "s6"}, "width": 635, "height": 57, "mark": {"type": "line", "color": "#ff0000", "strokeWidth": 2.4, "strokeJoin": "round", "clip": true}, "encoding": {"x": {"field": "t", "type": "quantitative", "scale": {"domain": [-165, 2460], "nice": false, "zero": false}, "axis": {"values": [0, 500, 1000, 1500, 2000], "labels": false, "title": null}}, "y": {"field": "v", "type": "quantitative", "scale": {"domain": [0, 100], "nice": false}, "axis": null}}},
{"data": {"name": "s7"}, "width": 635, "height": 57, "mark": {"type": "line", "color": "#ff0000", "strokeWidth": 2.4, "strokeJoin": "round", "clip": true}, "encoding": {"x": {"field": "t", "type": "quantitative", "scale": {"domain": [-165, 2460], "nice": false, "zero": false}, "axis": {"values": [0, 500, 1000, 1500, 2000], "labels": false, "title": null}}, "y": {"field": "v", "type": "quantitative", "scale": {"domain": [0, 100], "nice": false}, "axis": null}}},
{"data": {"name": "s8"}, "width": 635, "height": 57, "mark": {"type": "line", "color": "#ff0000", "strokeWidth": 2.4, "strokeJoin": "round", "clip": true}, "encoding": {"x": {"field": "t", "type": "quantitative", "scale": {"domain": [-165, 2460], "nice": false, "zero": false}, "axis": {"values": [0, 500, 1000, 1500, 2000], "labels": false, "title": null}}, "y": {"field": "v", "type": "quantitative", "scale": {"domain": [0, 100], "nice": false}, "axis": null}}},
{"data": {"name": "s9"}, "width": 635, "height": 57, "mark": {"type": "line", "color": "#ff0000", "strokeWidth": 2.4, "strokeJoin": "round", "clip": true}, "encoding": {"x": {"field": "t", "type": "quantitative", "scale": {"domain": [-165, 2460], "nice": false, "zero": false}, "axis": {"values": [0, 500, 1000, 1500, 2000], "labels": false, "title": null}}, "y": {"field": "v", "type": "quantitative", "scale": {"domain": [0, 100], "nice": false}, "axis": null}}},
{"data": {"name": "s10"}, "width": 635, "height": 57, "mark": {"type": "line", "color": "#ff0000", "strokeWidth": 2.4, "strokeJoin": "round", "clip": true}, "encoding": {"x": {"field": "t", "type": "quantitative", "scale": {"domain": [-165, 2460], "nice": false, "zero": false}, "axis": {"values": [0, 500, 1000, 1500, 2000], "labels": false, "title": null}}, "y": {"field": "v", "type": "quantitative", "scale": {"domain": [0, 100], "nice": false}, "axis": null}}},
{"data": {"name": "s11"}, "width": 635, "height": 57, "mark": {"type": "line", "color": "#ff0000", "strokeWidth": 2.4, "strokeJoin": "round", "clip": true}, "encoding": {"x": {"field": "t", "type": "quantitative", "scale": {"domain": [-165, 2460], "nice": false, "zero": false}, "axis": {"values": [0, 500, 1000, 1500, 2000], "labels": false, "title": null}}, "y": {"field": "v", "type": "quantitative", "scale": {"domain": [0, 100], "nice": false}, "axis": null}}},
{"data": {"name": "s12"}, "width": 635, "height": 57, "mark": {"type": "line", "color": "#ff0000", "strokeWidth": 2.4, "strokeJoin": "round", "clip": true}, "encoding": {"x": {"field": "t", "type": "quantitative", "scale": {"domain": [-165, 2460], "nice": false, "zero": false}, "axis": {"values": [0, 500, 1000, 1500, 2000], "format": "d", "labels": true, "title": "Time index"}}, "y": {"field": "v", "type": "quantitative", "scale": {"domain": [0, 100], "nice": false}, "axis": null}}}
],
"config": {
"view": {"stroke": "#333333", "strokeWidth": 2},
"axis": {"grid": false, "domain": false, "tickColor": "#333333", "tickWidth": 2, "tickSize": 7, "labelFont": "DejaVu Sans", "labelFontSize": 22, "labelColor": "#999999", "labelPadding": 5, "titleFont": "DejaVu Sans", "titleFontSize": 23, "titleFontWeight": "normal", "titleColor": "#999999", "titlePadding": 7}
}
}
